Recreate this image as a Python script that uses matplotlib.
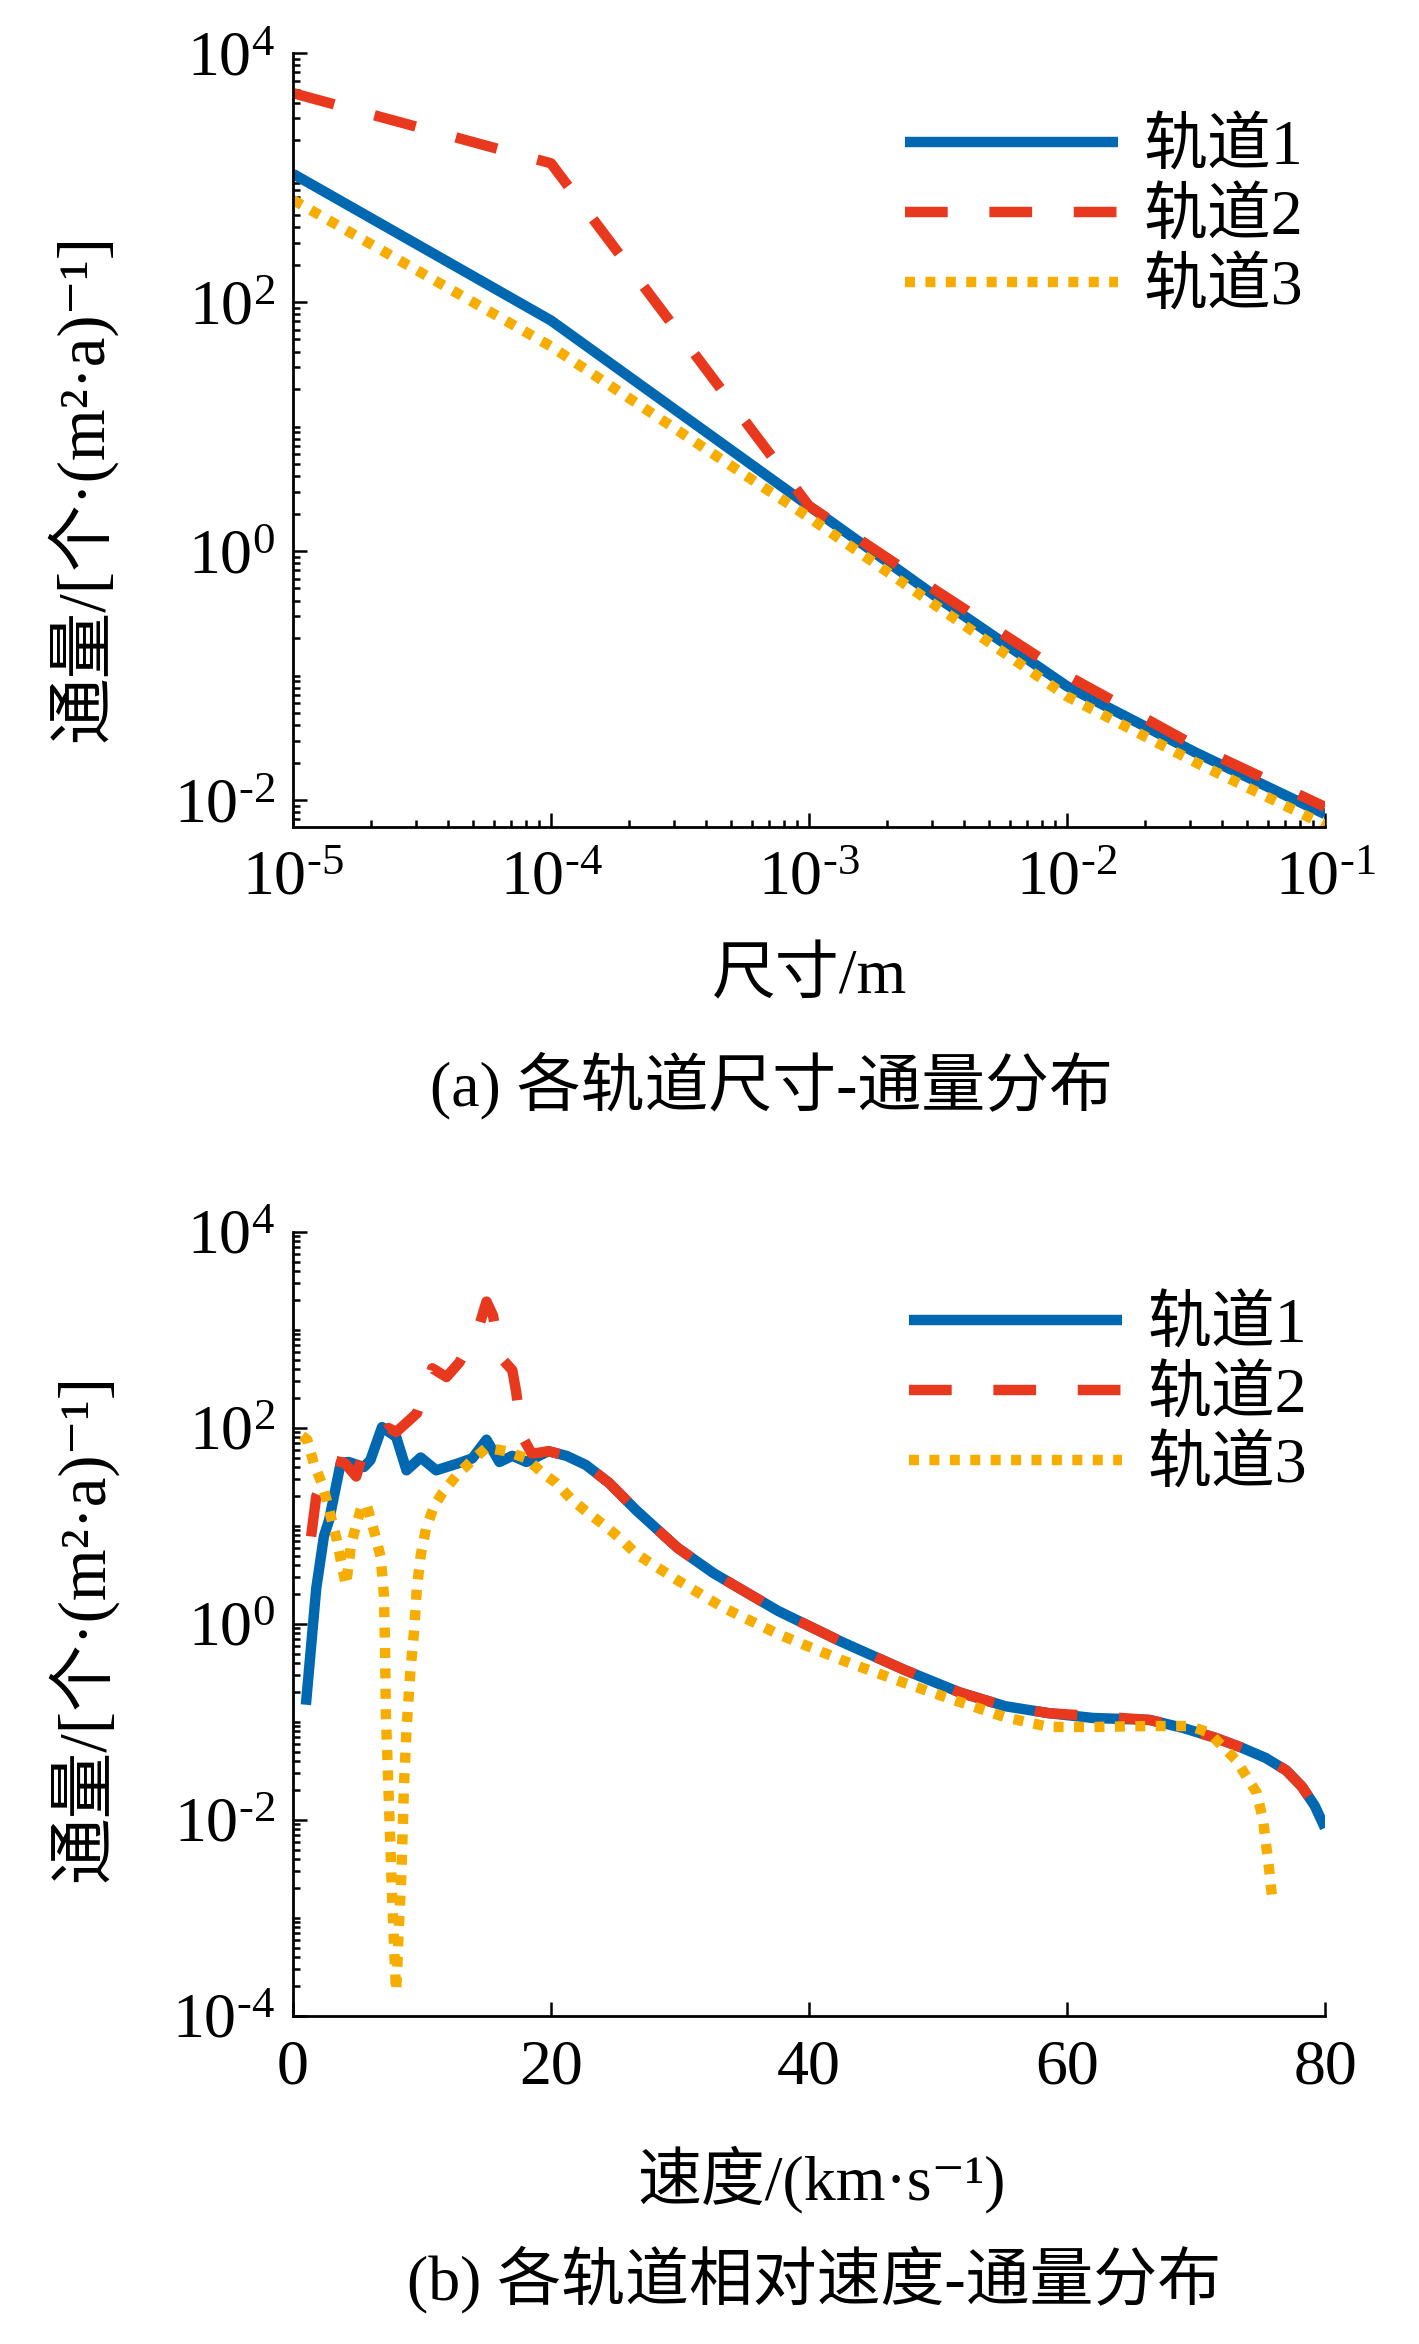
import numpy as np
import matplotlib
matplotlib.use('Agg')
import matplotlib.pyplot as plt
from matplotlib.ticker import LogLocator, MultipleLocator, NullFormatter, FuncFormatter

# 字体: 西文用 Times 类, 中文回退到 Noto Sans CJK
plt.rcParams['font.family'] = ['Liberation Serif', 'Noto Sans CJK SC', 'DejaVu Serif']
plt.rcParams['mathtext.fontset'] = 'custom'
plt.rcParams['mathtext.rm'] = 'Liberation Serif'
plt.rcParams['mathtext.it'] = 'Liberation Serif:italic'
plt.rcParams['mathtext.default'] = 'rm'

# (a) 尺寸-通量
size_m = [1e-5, 1e-4, 1e-3, 3.16e-3, 1e-2, 3.16e-2, 1e-1]
size_flux_1 = [1070, 71, 2.3, 0.42, 0.082, 0.024, 0.0077]
size_flux_2 = [4760, 1300, 2.3, 0.47, 0.10, 0.027, 0.0088]
size_flux_3 = [660, 44, 1.86, 0.355, 0.068, 0.020, 0.0063]

# (b) 相对速度-通量
speed_1 = [1.0, 1.8, 2.4, 2.8, 3.7, 4.3, 5.5, 6.0, 6.9, 8.0, 8.8, 9.9, 11.1, 12.9, 13.9,
           15.0, 16.0, 17.0, 18.1, 19.8, 21.2, 22.7, 24.5, 26.6, 29.8, 32.6, 37.6, 42.5,
           47.4, 51.7, 55.2, 58.6, 62.0, 66.4, 69.0, 71.5, 73.5, 75.4, 77.0, 78.2, 79.2, 80.0]
speed_flux_1 = [0.15, 2.3, 7.9, 11.5, 44, 45, 40, 47, 102, 81, 37, 50, 37, 44, 49,
                76, 45, 52, 45, 58, 52, 42, 27.5, 14.5, 6.0, 3.3, 1.36, 0.66,
                0.34, 0.20, 0.145, 0.123, 0.11, 0.105, 0.087, 0.069, 0.055, 0.043, 0.032, 0.022, 0.014, 0.0083]

speed_2 = [1.0, 1.8, 3.0, 4.0, 4.9, 5.5, 7.4, 8.0, 9.6, 10.8, 11.9, 12.9, 14.4, 15.0, 15.5,
           16.1, 17.0, 17.3, 17.7, 18.5, 19.1, 19.8, 21.2, 22.7, 24.5, 26.6, 29.8, 32.6,
           37.6, 42.5, 47.4, 51.7, 55.2, 58.6, 62.0, 66.4, 69.0, 71.5, 73.5, 75.4, 77.0, 78.2, 79.2, 79.7]
speed_flux_2 = [3.0, 20, 47, 44, 32, 60, 100, 91, 141, 407, 331, 468, 1070, 1950, 1410,
                525, 389, 234, 85, 55, 56, 58, 52, 42, 27.5, 14.5, 6.0, 3.3,
                1.36, 0.66, 0.34, 0.20, 0.145, 0.123, 0.115, 0.105, 0.087, 0.069, 0.055, 0.043, 0.032, 0.022, 0.014, 0.0079]

speed_3 = [0.7, 1.1, 1.6, 2.2, 2.6, 3.0, 3.4, 3.7, 4.1, 4.3, 4.5, 4.9, 5.3, 5.7, 6.4, 6.8,
           7.05, 7.13, 7.2, 7.44, 7.67, 7.98, 8.06, 8.2, 8.4, 8.5, 8.6, 8.8, 9.1, 9.4, 9.6,
           9.9, 10.3, 10.9, 11.6, 12.7, 13.9, 15.0, 16.5, 18.1, 19.3, 20.4, 21.6, 22.9, 24.3,
           25.5, 26.6, 29.8, 33.3, 37.6, 42.5, 47.4, 51.7, 55.2, 58.6, 62.0, 66.4, 69.5, 71.0,
           73.1, 74.7, 75.2, 75.7, 75.9]
speed_flux_3 = [83, 76, 44, 28, 18.6, 11.5, 7.2, 4.5, 2.5, 3.9, 6.5, 10.2, 15.5, 16.6, 7.8, 4.8,
                1.95, 0.65, 0.12, 0.0145, 0.0018, 0.00018, 0.00026, 0.00078, 0.0028, 0.0076, 0.022, 0.085, 0.33, 0.89, 2.3,
                5.0, 9.3, 15.5, 22, 33, 47, 63, 58, 49, 35, 27.5, 18.6, 13.5, 9.8,
                7.2, 5.2, 2.8, 1.48, 0.79, 0.43, 0.25, 0.16, 0.112, 0.089, 0.089, 0.091, 0.091, 0.078,
                0.041, 0.019, 0.010, 0.0029, 0.0016]

labels = ['轨道1', '轨道2', '轨道3']
colors = ['#0067B1', '#E8381D', '#F6AD00']
DASH = (4.1, 4.0)
styles = ['-', (0, DASH), (0, (0.96, 1.0))]
LW = 7.5
FS = 46

W, H = 1419, 2344
fig = plt.figure(figsize=(W / 100, H / 100), dpi=100)
ax1 = fig.add_axes([293 / W, 1 - 827 / H, 1032 / W, 774 / H])
ax2 = fig.add_axes([293 / W, 1 - 2016 / H, 1032 / W, 784 / H])


def pow10_label(v, pos):
    # 指数用短横线, 与原图一致
    e = int(round(np.log10(v)))
    if e < 0:
        return r'$10^{\text{-}%d}$' % (-e)
    return r'$10^{%d}$' % e


def style_axes(ax):
    for s in ['top', 'right']:
        ax.spines[s].set_visible(False)
    for s in ['left', 'bottom']:
        ax.spines[s].set_linewidth(2.0)
    ax.tick_params(which='both', direction='in', width=1.8, labelsize=FS)
    ax.tick_params(which='major', length=10)
    ax.tick_params(which='minor', length=5)
    ax.tick_params(axis='y', pad=13)
    ax.tick_params(axis='x', pad=17)


def add_legend(ax, x_px, y_px):
    leg = ax.legend(loc='center left', bbox_to_anchor=(x_px / W, 1 - y_px / H),
                    bbox_transform=fig.transFigure, frameon=False, fontsize=FS,
                    handlelength=3.33, handletextpad=0.4, labelspacing=0.17,
                    borderpad=0, borderaxespad=0)
    leg.get_lines()[1].set_linestyle((0, DASH))
    return leg


# ---- (a)
for x, y, lab, c, ls in zip([size_m] * 3, [size_flux_1, size_flux_2, size_flux_3], labels, colors, styles):
    ax1.plot(x, y, color=c, linestyle=ls, linewidth=LW, label=lab,
             solid_capstyle='butt', dash_capstyle='butt')
ax1.set_xscale('log')
ax1.set_yscale('log')
ax1.set_xlim(1e-5, 1e-1)
ax1.set_ylim(0.00607, 1e4)
ax1.xaxis.set_major_locator(LogLocator(base=10, numticks=20))
ax1.xaxis.set_minor_locator(LogLocator(base=10, subs=np.arange(2, 10), numticks=20))
ax1.xaxis.set_minor_formatter(NullFormatter())
ax1.yaxis.set_major_locator(LogLocator(base=100, numticks=20))
ax1.yaxis.set_minor_locator(LogLocator(base=10, subs=np.arange(1, 10), numticks=40))
ax1.yaxis.set_minor_formatter(NullFormatter())
ax1.xaxis.set_major_formatter(FuncFormatter(pow10_label))
ax1.yaxis.set_major_formatter(FuncFormatter(pow10_label))
style_axes(ax1)
ax1.set_xlabel('尺寸/m', fontsize=FS)
ax1.set_ylabel('通量/[个·(m²·a)⁻¹]', fontsize=48)
ax1.xaxis.set_label_coords(0.5, (827 - 978) / 774)
ax1.xaxis.label.set_va('center')
ax1.yaxis.set_label_coords((81 - 293) / 1032, (827 - 488) / 774)
ax1.yaxis.label.set_va('center')
add_legend(ax1, 905, 219)

# ---- (b)
lines2 = []
for x, y, lab, c, ls in zip([speed_1, speed_2, speed_3], [speed_flux_1, speed_flux_2, speed_flux_3],
                            labels, colors, styles):
    ln, = ax2.plot(x, y, color=c, linestyle=ls, linewidth=LW, label=lab,
                   solid_capstyle='butt', dash_capstyle='butt')
    lines2.append(ln)
ax2.set_yscale('log')
ax2.set_xlim(0, 80)
ax2.set_ylim(1e-4, 1e4)

# 调整虚线相位, 让轨道2的峰值落在一段实线上
pts = ax2.transData.transform(np.column_stack([speed_2, speed_flux_2]))
seg = np.hypot(*np.diff(pts, axis=0).T)
peak_len = seg[:int(np.argmax(speed_flux_2))].sum()
lw_px = LW * fig.dpi / 72
period = (DASH[0] + DASH[1]) * lw_px
offset_px = (DASH[0] * lw_px / 2 - peak_len) % period
lines2[1].set_linestyle((offset_px / lw_px, DASH))

ax2.xaxis.set_major_locator(MultipleLocator(20))
ax2.yaxis.set_major_locator(LogLocator(base=100, numticks=20))
ax2.yaxis.set_minor_locator(LogLocator(base=10, subs=np.arange(1, 10), numticks=40))
ax2.yaxis.set_minor_formatter(NullFormatter())
ax2.yaxis.set_major_formatter(FuncFormatter(pow10_label))
style_axes(ax2)
ax2.set_xlabel('速度/(km·s⁻¹)', fontsize=FS)
ax2.set_ylabel('通量/[个·(m²·a)⁻¹]', fontsize=48)
ax2.xaxis.set_label_coords((822 - 293) / 1032, (2016 - 2180) / 784)
ax2.xaxis.label.set_va('center')
ax2.yaxis.set_label_coords((82 - 293) / 1032, (2016 - 1628) / 784)
ax2.yaxis.label.set_va('center')
add_legend(ax2, 909, 1397)

fig.text(771 / W, 1 - 1086 / H, '(a) 各轨道尺寸-通量分布', fontsize=FS, ha='center', va='center')
fig.text(814 / W, 1 - 2280 / H, '(b) 各轨道相对速度-通量分布', fontsize=FS, ha='center', va='center')

fig.savefig('out.png', dpi=100)
